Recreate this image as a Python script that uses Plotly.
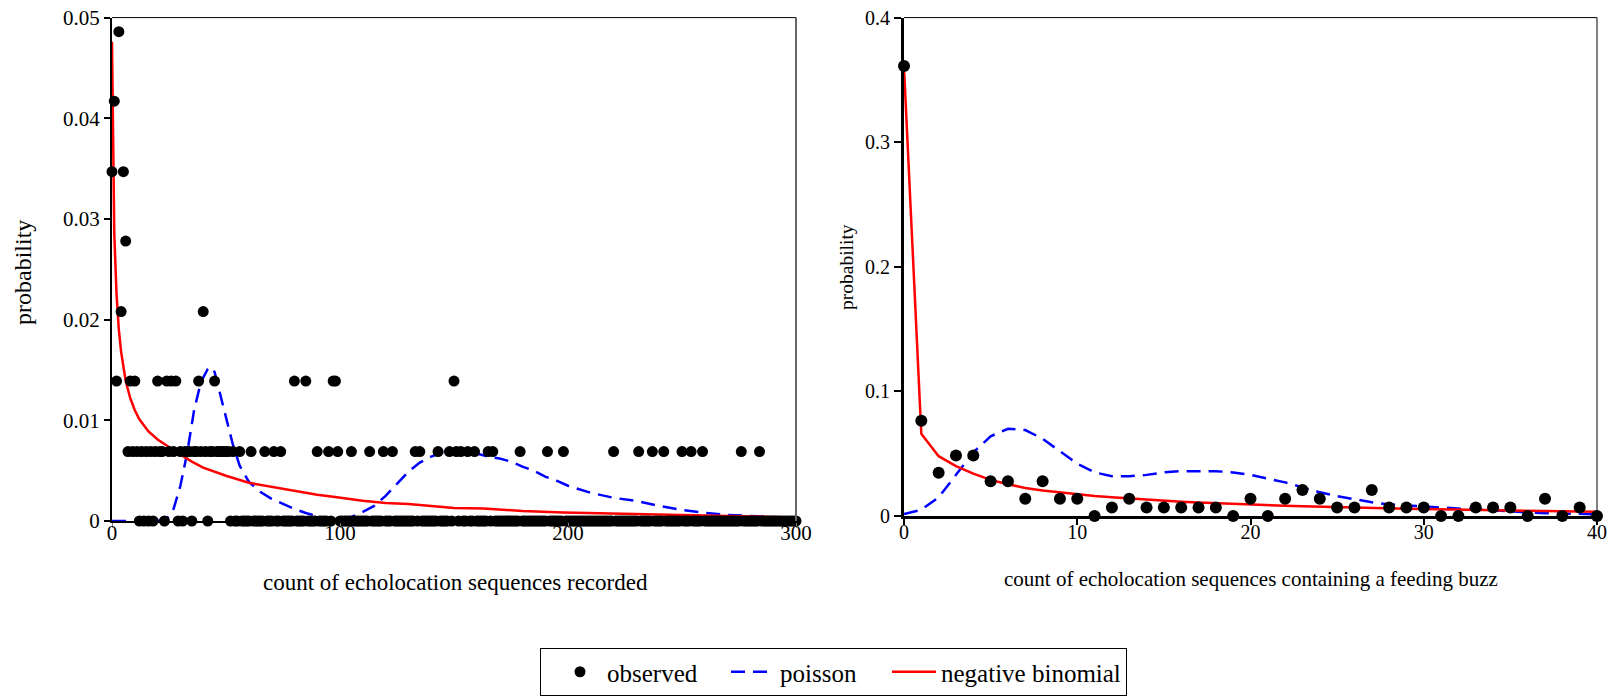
import plotly.graph_objects as go

SERIF = "Liberation Serif, Times New Roman, serif"

# ---------------- left panel: count of echolocation sequences recorded ----------------
rec_x_max = 300
# counts whose observed probability is non-zero (all other counts 0..300 are observed at 0)
rec_obs_nonzero_x = [0, 1, 2, 3, 4, 5, 6, 7, 8, 9, 10, 11,
                     13, 15, 17, 19, 20, 21, 22, 24, 25, 26, 27, 28, 30, 32, 33, 34, 36, 37,
                     38, 39, 40, 41, 43, 44, 45, 46, 47, 48, 49, 50, 51, 53, 56, 61, 67, 71,
                     74, 80, 85, 90, 95, 97, 98, 99, 105, 113, 119, 123, 133, 135, 143, 148,
                     150, 151, 153, 156, 159, 165, 167, 179, 191, 198, 220, 231, 237, 242,
                     250, 254, 259, 276, 284]
rec_obs_nonzero_p = [0.0347, 0.0417, 0.0139, 0.0486, 0.0208, 0.0347, 0.0278, 0.0069, 0.0139, 0.0069, 0.0139, 0.0069,
                     0.0069, 0.0069, 0.0069, 0.0069, 0.0139, 0.0069, 0.0069, 0.0139, 0.0069, 0.0139, 0.0069, 0.0139, 0.0069, 0.0069, 0.0069, 0.0069, 0.0069, 0.0069,
                     0.0139, 0.0069, 0.0208, 0.0069, 0.0069, 0.0069, 0.0139, 0.0069, 0.0069, 0.0069, 0.0069, 0.0069, 0.0069, 0.0069, 0.0069, 0.0069, 0.0069, 0.0069,
                     0.0069, 0.0139, 0.0139, 0.0069, 0.0069, 0.0139, 0.0139, 0.0069, 0.0069, 0.0069, 0.0069, 0.0069, 0.0069, 0.0069, 0.0069, 0.0069,
                     0.0139, 0.0069, 0.0069, 0.0069, 0.0069, 0.0069, 0.0069, 0.0069, 0.0069, 0.0069, 0.0069, 0.0069, 0.0069, 0.0069,
                     0.0069, 0.0069, 0.0069, 0.0069, 0.0069]

rec_pois_x = [0, 20, 24, 27, 30, 33, 36, 39, 42, 43, 45, 48, 50, 53, 56, 60, 65, 70, 75, 80, 85, 90,
              95, 98, 102, 106, 110, 115, 120, 125, 130, 135, 140, 145, 150, 155, 160, 165, 170,
              175, 180, 185, 190, 195, 200, 210, 220, 230, 240, 250, 260, 270, 280, 290, 300]
rec_pois_p = [0, 0, 0.0002, 0.0012, 0.0035, 0.0068, 0.011, 0.0138, 0.0151, 0.0153, 0.0148, 0.0122,
              0.0102, 0.0076, 0.0055, 0.0039, 0.0029, 0.0022, 0.0017, 0.0012, 0.0008, 0.0005,
              0.0002, 0.0, 0.0002, 0.0005, 0.0009, 0.0015, 0.0025, 0.0037, 0.0049, 0.0058, 0.0064,
              0.0068, 0.0069, 0.0069, 0.0067, 0.0064, 0.0062, 0.0059, 0.0054, 0.005, 0.0044, 0.004,
              0.0035, 0.0028, 0.0023, 0.002, 0.0015, 0.0011, 0.0008, 0.0006, 0.0005, 0.0004, 0.0003]

rec_nb_x = [0, 1, 2, 3, 4, 5, 6, 8, 10, 12, 16, 20, 25, 28, 30, 35, 40, 50, 60, 70, 80, 90, 97,
            110, 120, 130, 140, 150, 163, 180, 198, 221, 253, 280, 300]
rec_nb_p = [0.0476, 0.0285, 0.0225, 0.019, 0.0168, 0.0152, 0.0139, 0.0122, 0.011, 0.0101, 0.0089,
            0.0081, 0.0074, 0.0069, 0.0066, 0.0059, 0.0053, 0.0045, 0.0038, 0.0034, 0.003, 0.0026,
            0.0024, 0.002, 0.0018, 0.0017, 0.0015, 0.0013, 0.00124, 0.001, 0.00084, 0.00074,
            0.00057, 0.00045, 0.00036]

rec_x_ticks = [0, 100, 200, 300]
rec_y_ticks = [0, 0.01, 0.02, 0.03, 0.04, 0.05]
rec_y_labels = ["0", "0.01", "0.02", "0.03", "0.04", "0.05"]

# ---------------- right panel: sequences containing a feeding buzz ----------------
buzz_x = [0, 1, 2, 3, 4, 5, 6, 7, 8, 9, 10, 11, 12, 13, 14, 15, 16, 17, 18, 19, 20,
          21, 22, 23, 24, 25, 26, 27, 28, 29, 30, 31, 32, 33, 34, 35, 36, 37, 38, 39, 40]
buzz_obs_p = [0.3611, 0.0764, 0.0347, 0.0486, 0.0486, 0.0278, 0.0278, 0.0139, 0.0278, 0.0139, 0.0139,
              0, 0.0069, 0.0139, 0.0069, 0.0069, 0.0069, 0.0069, 0.0069, 0, 0.0139,
              0, 0.0139, 0.0208, 0.0139, 0.0069, 0.0069, 0.0208, 0.0069, 0.0069, 0.0069,
              0, 0, 0.0069, 0.0069, 0.0069, 0, 0.0139, 0, 0.0069, 0]
buzz_pois_p = [0.0015, 0.005, 0.015, 0.033, 0.051, 0.064, 0.07, 0.069, 0.062, 0.052, 0.042,
               0.035, 0.032, 0.032, 0.033, 0.035, 0.036, 0.036, 0.036, 0.035, 0.033,
               0.03, 0.027, 0.023, 0.019, 0.016, 0.0135, 0.011, 0.0093, 0.0082, 0.0076,
               0.0068, 0.006, 0.005, 0.004, 0.0033, 0.0027, 0.0022, 0.002, 0.0016, 0.0014]
buzz_nb_p = [0.36, 0.066, 0.048, 0.04, 0.034, 0.029, 0.0255, 0.0225, 0.0205, 0.019, 0.0172,
             0.016, 0.015, 0.014, 0.013, 0.0122, 0.0115, 0.0108, 0.0102, 0.0097, 0.0092,
             0.0087, 0.0082, 0.0078, 0.0074, 0.0071, 0.0068, 0.0065, 0.0062, 0.0059, 0.0056,
             0.0053, 0.0051, 0.0049, 0.0046, 0.0044, 0.0042, 0.004, 0.0038, 0.0036, 0.0034]

buzz_x_ticks = [0, 10, 20, 30, 40]
buzz_y_ticks = [0, 0.1, 0.2, 0.3, 0.4]
buzz_y_labels = ["0", "0.1", "0.2", "0.3", "0.4"]

legend_names = ["observed", "poisson", "negative binomial"]

# full observed series for the left panel (every count 0..300)
nz = dict(zip(rec_obs_nonzero_x, rec_obs_nonzero_p))
rec_obs_x = list(range(0, rec_x_max + 1))
rec_obs_p = [nz.get(v, 0) for v in rec_obs_x]

W, H = 1623, 697
BLUE = "#0000FF"
RED = "#FF0000"
DASH = "14px,8px"

fig = go.Figure()

# left panel (lines first, observed dots on top)
fig.add_trace(go.Scatter(x=rec_pois_x, y=rec_pois_p, mode="lines", name=legend_names[1],
                         line=dict(color=BLUE, width=2.5, dash=DASH), legendrank=2,
                         legendwidth=102, xaxis="x", yaxis="y", cliponaxis=False))
fig.add_trace(go.Scatter(x=rec_nb_x, y=rec_nb_p, mode="lines", name=legend_names[2],
                         line=dict(color=RED, width=2.5), legendrank=3,
                         xaxis="x", yaxis="y", cliponaxis=False))
fig.add_trace(go.Scatter(x=rec_obs_x, y=rec_obs_p, mode="markers", name=legend_names[0],
                         marker=dict(color="black", size=11), legendrank=1,
                         legendwidth=114, xaxis="x", yaxis="y", cliponaxis=False))

# right panel
fig.add_trace(go.Scatter(x=buzz_x, y=buzz_pois_p, mode="lines", name=legend_names[1],
                         line=dict(color=BLUE, width=2.5, dash=DASH), showlegend=False,
                         xaxis="x2", yaxis="y2", cliponaxis=False))
fig.add_trace(go.Scatter(x=buzz_x, y=buzz_nb_p, mode="lines", name=legend_names[2],
                         line=dict(color=RED, width=2.5), showlegend=False,
                         xaxis="x2", yaxis="y2", cliponaxis=False))
fig.add_trace(go.Scatter(x=buzz_x, y=buzz_obs_p, mode="markers", name=legend_names[0],
                         marker=dict(color="black", size=12), showlegend=False,
                         xaxis="x2", yaxis="y2", cliponaxis=False))


def px_x(p):
    return p / W


def px_y(p):
    return 1 - p / H


axis_common = dict(showgrid=False, zeroline=False, showline=True, linecolor="black",
                   ticks="outside")

fig.update_layout(
    width=W, height=H,
    margin=dict(l=0, r=0, t=0, b=0, autoexpand=False),
    paper_bgcolor="white", plot_bgcolor="white",
    font=dict(family=SERIF, color="black", size=20),
    xaxis=dict(domain=[px_x(112), px_x(796)], range=[0, rec_x_max], tickvals=rec_x_ticks,
               linewidth=2, ticklen=5, tickwidth=1, tickcolor="#808080", anchor="y",
               ticklabelstandoff=-13, tickfont=dict(family=SERIF, size=21, color="black"),
               **axis_common),
    yaxis=dict(domain=[px_y(521), px_y(17.6)], range=[0, 0.05], tickvals=rec_y_ticks,
               ticktext=rec_y_labels, linewidth=2, ticklen=6, tickwidth=1.5, tickcolor="black",
               anchor="x", ticklabelstandoff=0,
               tickfont=dict(family=SERIF, size=21, color="black"), **axis_common),
    xaxis2=dict(domain=[px_x(904), px_x(1597)], range=[0, 40], tickvals=buzz_x_ticks,
                linewidth=3, ticklen=6, tickwidth=2, tickcolor="black", anchor="y2",
                ticklabelstandoff=-10, tickfont=dict(family=SERIF, size=20, color="black"),
                **axis_common),
    yaxis2=dict(domain=[px_y(516), px_y(17.6)], range=[0, 0.4], tickvals=buzz_y_ticks,
                ticktext=buzz_y_labels, linewidth=3, ticklen=7, tickwidth=2, tickcolor="black",
                anchor="x2", ticklabelstandoff=0,
                tickfont=dict(family=SERIF, size=20, color="black"), **axis_common),
    legend=dict(orientation="h", x=px_x(540), xanchor="left", y=px_y(648), yanchor="top",
                bordercolor="black", borderwidth=1, bgcolor="white", itemwidth=44,
                title=dict(text="&nbsp;", side="left",
                           font=dict(family=SERIF, size=8, color="black")),
                font=dict(family=SERIF, size=25, color="black")),
    shapes=[
        dict(type="line", xref="x domain", yref="y domain", x0=0, x1=1, y0=1, y1=1,
             line=dict(color="black", width=1)),
        dict(type="line", xref="x domain", yref="y domain", x0=1, x1=1, y0=0, y1=1,
             line=dict(color="#666666", width=2)),
        dict(type="line", xref="x2 domain", yref="y2 domain", x0=0, x1=1, y0=1, y1=1,
             line=dict(color="black", width=1)),
        dict(type="line", xref="x2 domain", yref="y2 domain", x0=1, x1=1, y0=0, y1=1,
             line=dict(color="black", width=1)),
    ],
    annotations=[
        dict(text="count of echolocation sequences recorded", xref="paper", yref="paper",
             x=px_x(455), y=px_y(582), xanchor="center", yanchor="middle", showarrow=False,
             font=dict(family=SERIF, size=23, color="black")),
        dict(text="count of echolocation sequences containing a feeding buzz", xref="paper",
             yref="paper", x=px_x(1251), y=px_y(579), xanchor="center", yanchor="middle",
             showarrow=False, font=dict(family=SERIF, size=21, color="black")),
        dict(text="probability", xref="paper", yref="paper", x=px_x(23), y=px_y(273),
             xanchor="center", yanchor="middle", textangle=-90, showarrow=False,
             font=dict(family=SERIF, size=24, color="black")),
        dict(text="probability", xref="paper", yref="paper", x=px_x(846), y=px_y(267),
             xanchor="center", yanchor="middle", textangle=-90, showarrow=False,
             font=dict(family=SERIF, size=19.5, color="black")),
    ],
)

# the page's default 8px body margin would shift the whole figure
fig.write_html("out.html", config={"displayModeBar": False},
               post_script="document.body.style.margin='0px';")
